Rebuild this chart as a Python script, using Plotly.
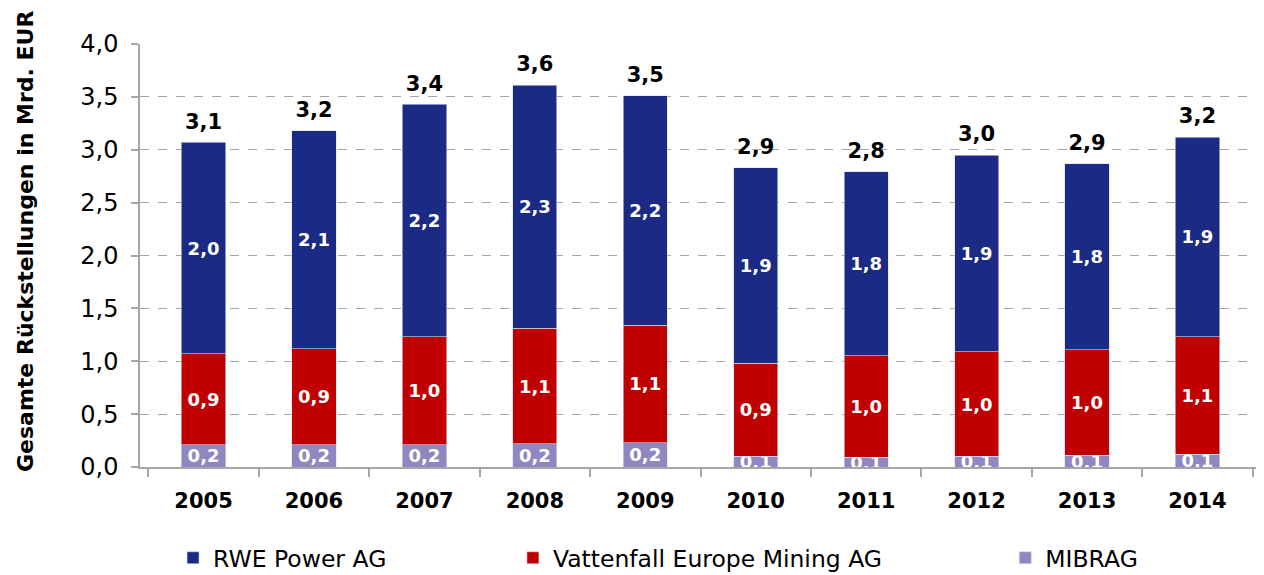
import plotly.graph_objects as go

years = ["2005", "2006", "2007", "2008", "2009", "2010", "2011", "2012", "2013", "2014"]
mibrag = [0.21, 0.21, 0.21, 0.22, 0.23, 0.10, 0.09, 0.10, 0.11, 0.12]
vattenfall = [0.86, 0.91, 1.02, 1.09, 1.11, 0.88, 0.96, 0.99, 1.00, 1.11]
rwe = [2.00, 2.06, 2.20, 2.30, 2.17, 1.85, 1.74, 1.86, 1.76, 1.89]

mibrag_labels = ["0,2", "0,2", "0,2", "0,2", "0,2", "0,1", "0,1", "0,1", "0,1", "0,1"]
vattenfall_labels = ["0,9", "0,9", "1,0", "1,1", "1,1", "0,9", "1,0", "1,0", "1,0", "1,1"]
rwe_labels = ["2,0", "2,1", "2,2", "2,3", "2,2", "1,9", "1,8", "1,9", "1,8", "1,9"]
total_labels = ["3,1", "3,2", "3,4", "3,6", "3,5", "2,9", "2,8", "3,0", "2,9", "3,2"]

totals = [a + b + c for a, b, c in zip(mibrag, vattenfall, rwe)]

FONT = "DejaVu Sans"
C_RWE = "#1b2a84"
C_VF = "#c00000"
C_MIB = "#8f87bf"

seg_font = dict(family=FONT, size=18, color="white", weight="bold")
outline = dict(color="#d8dcf0", width=0.6)

fig = go.Figure()
fig.add_trace(go.Bar(
    x=years, y=mibrag, name="MIBRAG", marker=dict(color=C_MIB, line=outline),
    text=mibrag_labels, textposition="inside", insidetextanchor="middle", constraintext="none",
    textfont=seg_font, width=0.4, legend="legend3", cliponaxis=True, hoverinfo="skip"))
fig.add_trace(go.Bar(
    x=years, y=vattenfall, name="Vattenfall Europe Mining AG", marker=dict(color=C_VF, line=outline),
    text=vattenfall_labels, textposition="inside", insidetextanchor="middle", constraintext="none",
    textfont=seg_font, width=0.4, legend="legend2", hoverinfo="skip"))
fig.add_trace(go.Bar(
    x=years, y=rwe, name="RWE Power AG", marker=dict(color=C_RWE, line=outline),
    text=rwe_labels, textposition="inside", insidetextanchor="middle", constraintext="none",
    textfont=seg_font, width=0.4, legend="legend", hoverinfo="skip"))
fig.add_trace(go.Scatter(
    x=years, y=totals, mode="markers+text", text=total_labels, textposition="top center",
    marker=dict(size=12, color="rgba(0,0,0,0)"),
    textfont=dict(family=FONT, size=21, color="black", weight="bold"),
    showlegend=False, hoverinfo="skip", cliponaxis=False))

leg_common = dict(orientation="h", xref="container", yref="container", yanchor="top",
                  xanchor="left", font=dict(family=FONT, size=23.5, color="black"),
                  bgcolor="rgba(0,0,0,0)")

fig.update_layout(
    width=1256, height=567,
    margin=dict(l=132, r=3, t=36, b=108, autoexpand=False),
    paper_bgcolor="white", plot_bgcolor="white",
    barmode="stack",
    separators=",.",
    font=dict(family=FONT, color="black"),
    legend=dict(x=0.1314, y=0.0688, **leg_common),
    legend2=dict(x=0.402, y=0.0688, **leg_common),
    legend3=dict(x=0.794, y=0.0688, **leg_common),
    xaxis=dict(
        automargin=False,
        showline=True, linecolor="#a6a6a6", linewidth=1.5,
        ticks="outside", tickson="boundaries", ticklen=8, tickcolor="#a6a6a6", tickwidth=1.5,
        ticklabelstandoff=14,
        tickfont=dict(family=FONT, size=21, color="black", weight="bold"),
        showgrid=False,
    ),
    yaxis=dict(
        automargin=False,
        range=[0, 4], dtick=0.5, tickformat=".1f",
        showline=True, linecolor="#a6a6a6", linewidth=1.5,
        ticks="outside", ticklen=7, tickcolor="#a6a6a6", tickwidth=1.5,
        ticklabelstandoff=8,
        showgrid=True, gridcolor="#a6a6a6", griddash="dash", gridwidth=1,
        zeroline=False,
        tickfont=dict(family=FONT, size=24, color="black"),
    ),
    annotations=[dict(
        text="Gesamte Rückstellungen in Mrd. EUR", textangle=-90,
        xref="paper", yref="paper", x=-0.1027, y=0.534,
        xanchor="center", yanchor="middle", showarrow=False,
        font=dict(family=FONT, size=22, color="black", weight="bold"),
    )],
)

fig.write_html("out.html")
